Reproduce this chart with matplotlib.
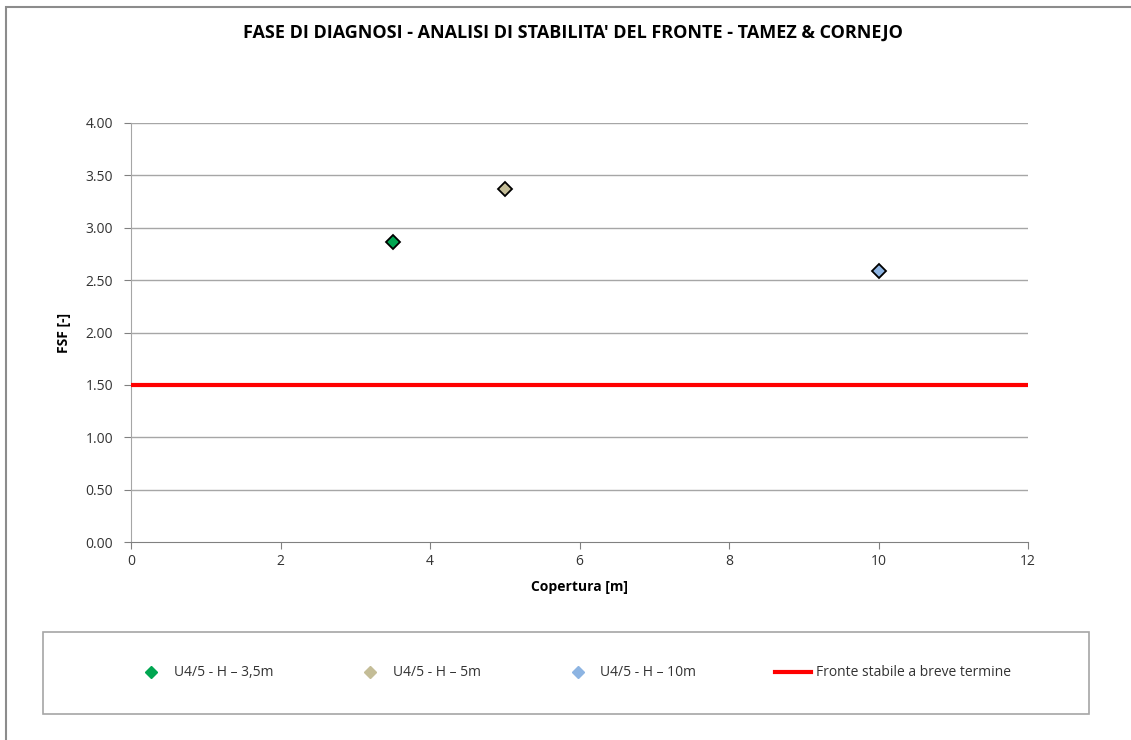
import matplotlib.pyplot as plt
from matplotlib.lines import Line2D
from matplotlib.patches import Rectangle

plt.rcParams['font.family'] = ['Open Sans', 'DejaVu Sans']

# data
copertura = [3.5, 5, 10]
fsf = [2.86, 3.37, 2.59]
labels = ['U4/5 - H – 3,5m', 'U4/5 - H – 5m', 'U4/5 - H – 10m']
colors = ['#00A651', '#C4BD97', '#8DB4E2']
soglia = 1.5
soglia_label = 'Fronte stabile a breve termine'
x_ticks = [0, 2, 4, 6, 8, 10, 12]
y_ticks = [0, 0.5, 1.0, 1.5, 2.0, 2.5, 3.0, 3.5, 4.0]

fig = plt.figure(figsize=(11.31, 7.40), dpi=100)
ax = fig.add_axes([131/1131, 1 - 542/740, (1028-131)/1131, (542-123)/740])

# outer chart border (only left and top visible)
fig.patches.append(Rectangle((6/1131, -0.05), 1.1, 1 - 7/740 + 0.05,
                             transform=fig.transFigure, fill=False,
                             edgecolor='#8c8c8c', linewidth=1.5))
# legend box
fig.patches.append(Rectangle((43/1131, 1 - 714/740), (1089-43)/1131, (714-632)/740,
                             transform=fig.transFigure, fill=False,
                             edgecolor='#a6a6a6', linewidth=1.2))

for y in y_ticks[1:]:
    ax.axhline(y, color='#a6a6a6', linewidth=1, zorder=1)

handles = []
for x, y, lab, c in zip(copertura, fsf, labels, colors):
    ax.plot(x, y, marker='D', markersize=7, markerfacecolor=c,
            markeredgecolor='black', markeredgewidth=1.3, linestyle='none', zorder=4)
    handles.append(Line2D([], [], marker='D', markersize=6, markerfacecolor=c,
                          markeredgecolor=c, linestyle='none', label=lab))

ax.axhline(soglia, color='#ff0000', linewidth=3, zorder=3)
handles.append(Line2D([], [], color='#ff0000', linewidth=3, label=soglia_label))

ax.set_xlim(0, 12)
ax.set_ylim(0, 4)
ax.set_xticks(x_ticks)
ax.set_yticks(y_ticks)
ax.set_yticklabels(['%.2f' % v for v in y_ticks])
for s in ['top', 'right']:
    ax.spines[s].set_visible(False)
ax.spines['left'].set_color('#a6a6a6')
ax.spines['bottom'].set_color('#808080')
ax.tick_params(axis='both', colors='#808080', labelcolor='#333333',
               labelsize=10, length=5, direction='out')
ax.tick_params(axis='y', pad=8)

ax.set_xlabel('Copertura [m]', fontsize=10, fontweight='bold', labelpad=8)
ax.set_ylabel('FSF [-]', fontsize=10, fontweight='bold', labelpad=10)

fig.text(573/1131, 1 - 33/740, "FASE DI DIAGNOSI - ANALISI DI STABILITA' DEL FRONTE - TAMEZ & CORNEJO",
         ha='center', va='center', fontsize=13, fontweight='bold')

leg = fig.legend(handles=handles, loc='center', ncol=4,
                 bbox_to_anchor=(572/1131, 1 - 673/740),
                 frameon=False, fontsize=10, handlelength=2.6,
                 handletextpad=0.3, columnspacing=5.7)
for t in leg.get_texts():
    t.set_color('#333333')

fig.savefig('out.png', dpi=100)
